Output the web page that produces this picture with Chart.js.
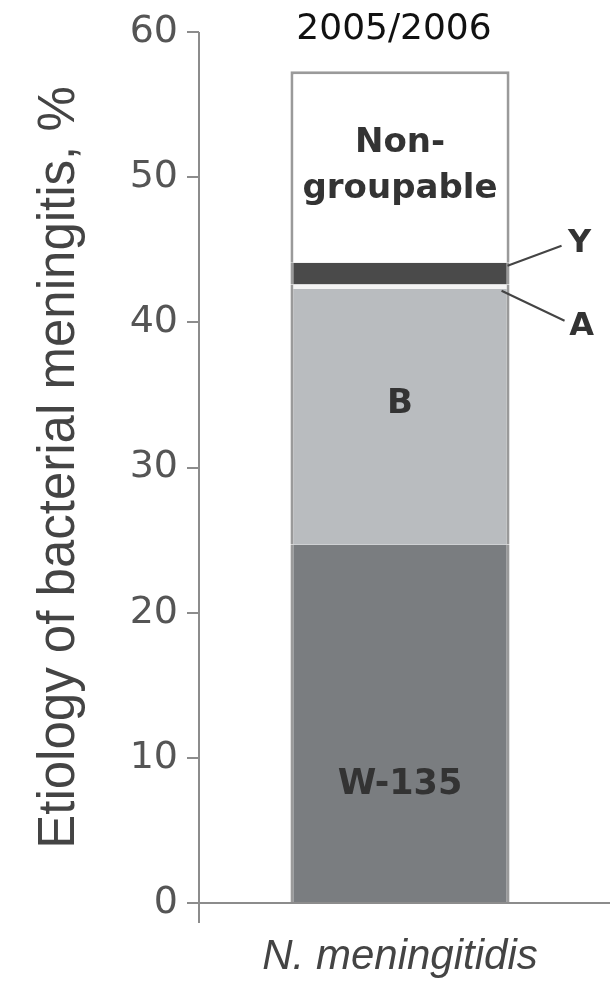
<!DOCTYPE html>
<html>
<head>
<meta charset="utf-8">
<script src="https://cdn.jsdelivr.net/npm/chart.js@4"></script>
<style>
  body { margin: 0; background: #fff; }
  canvas { display: block; }
</style>
</head>
<body>
<canvas id="etiologyChart" width="610" height="981"></canvas>
<script>
// data
const categories = ['N. meningitidis'];
const groups = ['W-135', 'B', 'A', 'Y', 'Non-groupable'];
const w135 = [24.7];
const groupB = [17.6];
const groupA = [0.3];
const groupY = [1.5];
const nonGroupable = [13.2];
const yTicks = [0, 10, 20, 30, 40, 50, 60];
const period = '2005/2006';

const fills = ['#7a7d80', '#b9bcbf', '#f4f4f4', '#4a4a4a', '#ffffff'];
const edge = '#9a9a9a';

function seg(label, data, color, top) {
    return {
        label: label,
        data: data,
        backgroundColor: color,
        borderColor: edge,
        borderWidth: { left: 3, right: 3, top: top ? 3 : 0, bottom: 0 },
        borderSkipped: false,
        barPercentage: 0.545,
        categoryPercentage: 1
    };
}

// text inside/next to the bar + axis lines
const annotate = {
    id: 'annotate',
    afterDatasetsDraw(chart) {
        const c = chart.ctx;
        const y = chart.scales.y;
        const area = chart.chartArea;
        c.save();
        // axis lines
        c.strokeStyle = '#8c8c8c';
        c.lineWidth = 2;
        c.beginPath();
        c.moveTo(area.left, y.getPixelForValue(60));
        c.lineTo(area.left, y.getPixelForValue(0) + 20);
        c.moveTo(area.left - 12, y.getPixelForValue(0));
        c.lineTo(chart.width, y.getPixelForValue(0));
        c.stroke();

        const bar = chart.getDatasetMeta(4).data[0];
        const cx = bar.x;
        const right = bar.x + bar.width / 2;
        let base = 0;
        const mids = [];
        [w135, groupB, groupA, groupY, nonGroupable].forEach(d => {
            mids.push(y.getPixelForValue(base + d[0] / 2));
            base += d[0];
        });

        c.fillStyle = '#333';
        c.textAlign = 'center';
        c.textBaseline = 'middle';
        c.font = 'bold 35px "DejaVu Sans"';
        c.fillText('W-135', cx, y.getPixelForValue(w135[0] * 0.33));
        c.font = 'bold 34px "DejaVu Sans"';
        c.fillText('B', cx, y.getPixelForValue(w135[0] + groupB[0] * 0.55));
        c.fillText('Non-', cx, mids[4] - 24);
        c.fillText('groupable', cx, mids[4] + 22);

        // leader lines for the thin groups
        c.strokeStyle = '#444';
        c.lineWidth = 2;
        c.beginPath();
        c.moveTo(right - 2, mids[3] - 8);
        c.lineTo(right + 52, mids[3] - 28);
        c.moveTo(right - 8, mids[2] + 4);
        c.lineTo(right + 55, mids[2] + 34);
        c.stroke();
        c.font = 'bold 32px "DejaVu Sans"';
        c.fillText('Y', right + 70, mids[3] - 30);
        c.fillText('A', right + 72, mids[2] + 40);

        // period title
        c.fillStyle = '#111';
        c.font = '36px "DejaVu Sans"';
        c.fillText(period, cx - 6, 30);
        c.restore();
    }
};

new Chart(document.getElementById('etiologyChart'), {
    type: 'bar',
    data: {
        labels: categories,
        datasets: [
            seg(groups[0], w135, fills[0]),
            seg(groups[1], groupB, fills[1]),
            seg(groups[2], groupA, fills[2]),
            seg(groups[3], groupY, fills[3]),
            seg(groups[4], nonGroupable, fills[4], true)
        ]
    },
    options: {
        responsive: false,
        animation: false,
        layout: { padding: { top: 32, right: 9, bottom: 0, left: 0 } },
        plugins: { legend: { display: false }, tooltip: { enabled: false } },
        scales: {
            x: {
                stacked: true,
                grid: { display: false, drawTicks: false },
                border: { display: false },
                ticks: {
                    color: '#444',
                    padding: 29,
                    font: { family: 'Liberation Sans', size: 42, style: 'italic' }
                },
                afterFit(scale) { scale.height = 78; }
            },
            y: {
                stacked: true,
                min: 0,
                max: 60,
                afterBuildTicks(scale) { scale.ticks = yTicks.map(v => ({ value: v })); },
                grid: { drawOnChartArea: false, tickLength: 12, color: '#8c8c8c', lineWidth: 2 },
                border: { display: false },
                ticks: {
                    color: '#555',
                    padding: 9,
                    font: { family: 'DejaVu Sans', size: 38 }
                },
                title: {
                    display: true,
                    text: 'Etiology of bacterial meningitis, %',
                    color: '#444',
                    padding: { top: 29, bottom: 0 },
                    font: { family: 'Liberation Sans', size: 51 }
                },
                afterFit(scale) { scale.width = 199; }
            }
        }
    },
    plugins: [annotate]
});
</script>
</body>
</html>
